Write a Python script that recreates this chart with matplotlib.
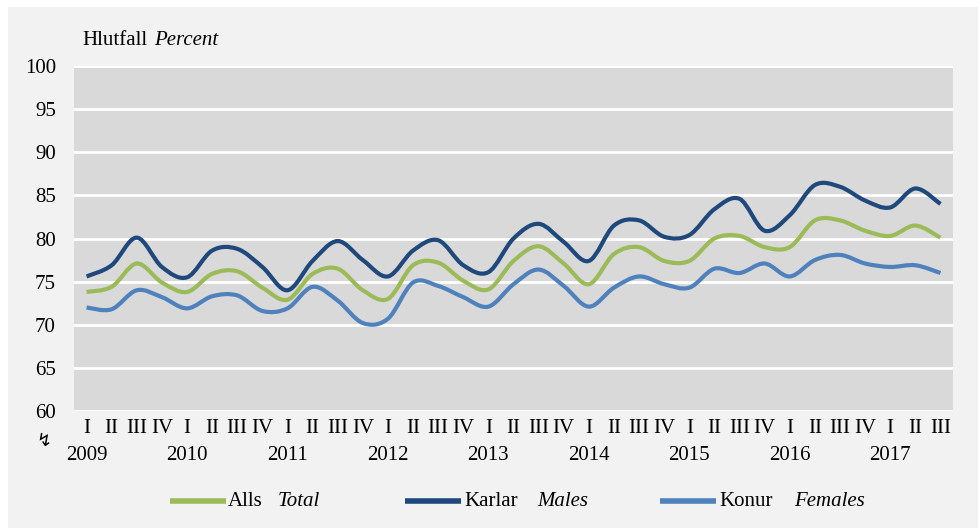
import numpy as np
import matplotlib.pyplot as plt
from matplotlib.path import Path
from matplotlib.patches import PathPatch, Rectangle
from matplotlib.lines import Line2D

plt.rcParams['font.family'] = ['Liberation Serif', 'DejaVu Sans']

years = [2009, 2010, 2011, 2012, 2013, 2014, 2015, 2016, 2017]
quarters = ['I', 'II', 'III', 'IV'] * 8 + ['I', 'II', 'III']

# Hlutfall, % (quarterly, 2009 Q1 - 2017 Q3)
total = [73.8, 74.4, 77.1, 74.9, 73.8, 75.9, 76.2, 74.3, 72.9, 75.9, 76.5, 74.0,
         73.0, 76.9, 77.2, 75.1, 74.1, 77.4, 79.1, 77.1, 74.7, 78.2, 79.0, 77.4,
         77.4, 80.0, 80.3, 79.0, 79.0, 82.1, 82.1, 80.9, 80.3, 81.5, 80.1]
males = [75.6, 76.9, 80.1, 76.7, 75.5, 78.6, 78.8, 76.7, 74.0, 77.4, 79.7, 77.5,
         75.6, 78.6, 79.8, 76.9, 76.1, 80.0, 81.7, 79.6, 77.4, 81.5, 82.1, 80.2,
         80.4, 83.4, 84.6, 80.9, 82.7, 86.2, 86.0, 84.4, 83.6, 85.8, 84.0]
females = [72.0, 71.8, 74.0, 73.2, 71.9, 73.3, 73.4, 71.6, 71.9, 74.4, 72.8, 70.2,
           70.7, 74.9, 74.5, 73.2, 72.1, 74.7, 76.4, 74.5, 72.1, 74.3, 75.6, 74.7,
           74.3, 76.5, 76.0, 77.1, 75.6, 77.5, 78.1, 77.1, 76.7, 76.9, 76.0]

c_total = '#9bbb59'
c_males = '#1f497d'
c_females = '#4f81bd'


def smooth_path(x, y):
    # Excel-like smoothed line: Catmull-Rom segments as cubic Beziers
    pts = np.column_stack([np.asarray(x, float), np.asarray(y, float)])
    verts = [pts[0]]
    codes = [Path.MOVETO]
    n = len(pts)
    for i in range(n - 1):
        p0 = pts[i - 1] if i > 0 else pts[i]
        p1 = pts[i]
        p2 = pts[i + 1]
        p3 = pts[i + 2] if i + 2 < n else pts[i + 1]
        verts += [p1 + (p2 - p0) / 6.0, p2 - (p3 - p1) / 6.0, p2]
        codes += [Path.CURVE4] * 3
    return Path(verts, codes)


W, H = 979, 529
fig = plt.figure(figsize=(W / 100, H / 100), dpi=100)
fig.patch.set_facecolor('white')
fig.add_artist(Rectangle((8 / W, 1 / H), 970 / W, 521 / H,
                         transform=fig.transFigure, facecolor='#f2f2f2',
                         edgecolor='none', zorder=0))

ax = fig.add_axes([74 / W, 1 - 411 / H, 879 / W, 345 / H])
ax.set_facecolor('#d9d9d9')
ax.set_zorder(1)

xs = np.arange(len(total))
for vals, col in [(total, c_total), (males, c_males), (females, c_females)]:
    ax.add_patch(PathPatch(smooth_path(xs, vals), facecolor='none',
                           edgecolor=col, lw=3.0, capstyle='butt', zorder=3))

ax.set_xlim(-0.5, len(total) - 0.5)
ax.set_ylim(60, 100)
ax.set_yticks(np.arange(60, 101, 5))
ax.yaxis.grid(True, color='white', lw=2)
ax.set_axisbelow(True)
for s in ax.spines.values():
    s.set_visible(False)
ax.tick_params(axis='y', length=0, labelsize=15, pad=13)
ax.tick_params(axis='x', length=0, labelsize=15, pad=6)
ax.set_xticks(xs)
ax.set_xticklabels(quarters)

for k, yr in enumerate(years):
    ax.text(4 * k, -0.128, str(yr), transform=ax.get_xaxis_transform(),
            ha='center', va='center', fontsize=15)

fig.text(44 / W, 1 - 441 / H, '\u21af', ha='center', va='center',
         fontsize=13, family=['DejaVu Sans'])

fig.text(82 / W, 1 - 40 / H, 'Hlutfall', ha='left', va='center', fontsize=15)
fig.text(154 / W, 1 - 40 / H, 'Percent', ha='left', va='center',
         fontsize=15, style='italic')

# legend
ly = 1 - 501 / H
legend_items = [
    (c_total, 170, 'Alls', 228, 'Total', 278),
    (c_males, 405, 'Karlar', 464, 'Males', 537),
    (c_females, 660, 'Konur', 719, 'Females', 794),
]
for col, x0, lab, xt, lab_en, xe in legend_items:
    fig.add_artist(Line2D([x0 / W, (x0 + 56) / W], [ly, ly], color=col,
                          lw=4.0, solid_capstyle='butt', transform=fig.transFigure))
    fig.text(xt / W, ly, lab, ha='left', va='center', fontsize=15)
    fig.text(xe / W, ly, lab_en, ha='left', va='center', fontsize=15,
             style='italic')

fig.savefig('out.png', dpi=100, facecolor=fig.get_facecolor())
